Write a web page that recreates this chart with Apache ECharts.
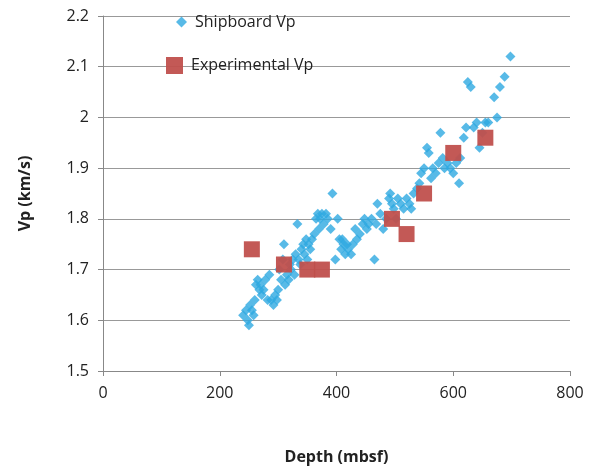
<!DOCTYPE html>
<html><head><meta charset="utf-8">
<script src="https://cdn.jsdelivr.net/npm/echarts@6/dist/echarts.min.js"></script>
<style>html,body{margin:0;background:#fff}#c{width:589px;height:470px}</style>
</head><body><div id="c"></div>
<script>
// shipboard measurements [depth mbsf, Vp km/s]
var shipboard = [[240,1.61],[245,1.62],[248,1.60],[250,1.59],[252,1.63],[255,1.62],[258,1.61],[260,1.64],[262,1.67],[265,1.68],[268,1.66],[270,1.67],[272,1.65],[275,1.66],[278,1.68],[282,1.64],[285,1.69],[288,1.64],[292,1.63],[295,1.65],[298,1.64],[300,1.66],[302,1.70],[305,1.68],[308,1.72],[310,1.75],[312,1.67],[315,1.69],[318,1.68],[320,1.71],[322,1.70],[325,1.72],[328,1.69],[330,1.73],[333,1.79],[335,1.72],[338,1.71],[340,1.74],[343,1.75],[345,1.73],[348,1.76],[350,1.72],[352,1.75],[355,1.74],[358,1.76],[362,1.77],[365,1.80],[368,1.81],[370,1.78],[372,1.80],[375,1.81],[378,1.79],[382,1.81],[385,1.80],[390,1.78],[393,1.85],[398,1.72],[402,1.80],[405,1.76],[408,1.74],[410,1.76],[412,1.75],[415,1.73],[418,1.75],[420,1.74],[425,1.73],[428,1.75],[432,1.78],[435,1.76],[440,1.77],[445,1.79],[448,1.80],[452,1.78],[455,1.79],[460,1.80],[465,1.72],[468,1.79],[470,1.83],[475,1.81],[480,1.78],[485,1.80],[490,1.84],[492,1.85],[495,1.83],[498,1.82],[502,1.80],[505,1.84],[510,1.83],[515,1.82],[520,1.84],[525,1.83],[528,1.82],[532,1.85],[538,1.86],[542,1.87],[545,1.89],[550,1.90],[555,1.94],[558,1.93],[562,1.88],[565,1.90],[570,1.89],[575,1.91],[578,1.97],[582,1.92],[585,1.90],[590,1.91],[595,1.90],[600,1.89],[605,1.91],[610,1.87],[612,1.92],[618,1.96],[622,1.98],[625,2.07],[630,2.06],[635,1.98],[640,1.99],[645,1.94],[650,1.97],[655,1.99],[660,1.99],[670,2.04],[675,2.00],[680,2.06],[688,2.08],[698,2.12]];
var experimental = [[255,1.74],[310,1.71],[350,1.70],[375,1.70],[495,1.80],[520,1.77],[550,1.85],[600,1.93],[655,1.96]];

var font = 'Open Sans';
var chart = echarts.init(document.getElementById('c'));
chart.setOption({
    animation: false,
    textStyle: {fontFamily: font},
    grid: {left: 103, right: 19, top: 16, bottom: 99},
    legend: [
        {left: 171, top: 9, itemWidth: 11, itemHeight: 11, itemGap: 0,
         textStyle: {fontSize: 16, color: '#222', fontFamily: font, padding: [0, 0, 0, 3]},
         data: [{name: 'Shipboard Vp', icon: 'diamond'}]},
        {left: 161, top: 52, itemWidth: 17, itemHeight: 17, itemGap: 0,
         textStyle: {fontSize: 16, color: '#222', fontFamily: font, padding: [0, 0, 0, 3]},
         data: [{name: 'Experimental Vp', icon: 'rect'}]}
    ],
    xAxis: {
        type: 'value', min: 0, max: 800, interval: 200,
        name: 'Depth (mbsf)', nameLocation: 'middle', nameGap: 78,
        nameTextStyle: {fontSize: 16, fontWeight: 'bold', color: '#222'},
        axisLine: {lineStyle: {color: '#888'}},
        axisTick: {show: true, length: 5, lineStyle: {color: '#888'}},
        axisLabel: {fontSize: 16, color: '#222', margin: 14},
        splitLine: {show: false}
    },
    yAxis: {
        type: 'value', min: 1.5, max: 2.2, interval: 0.1,
        name: 'Vp (km/s)', nameLocation: 'middle', nameGap: 70,
        nameTextStyle: {fontSize: 16, fontWeight: 'bold', color: '#222'},
        axisLine: {show: true, lineStyle: {color: '#888'}},
        axisTick: {show: true, length: 5, lineStyle: {color: '#888'}},
        axisLabel: {fontSize: 16, color: '#222', margin: 14, formatter: function(v) { return +v.toFixed(1) + ''; }},
        splitLine: {lineStyle: {color: '#999', width: 1}}
    },
    series: [
        {name: 'Shipboard Vp', type: 'scatter', data: shipboard, symbol: 'diamond', symbolSize: 10,
         itemStyle: {color: '#2ea9e1'}},
        {name: 'Experimental Vp', type: 'scatter', data: experimental, symbol: 'rect', symbolSize: 16,
         itemStyle: {color: '#c0504d', opacity: 0.95}}
    ]
});
</script></body></html>
